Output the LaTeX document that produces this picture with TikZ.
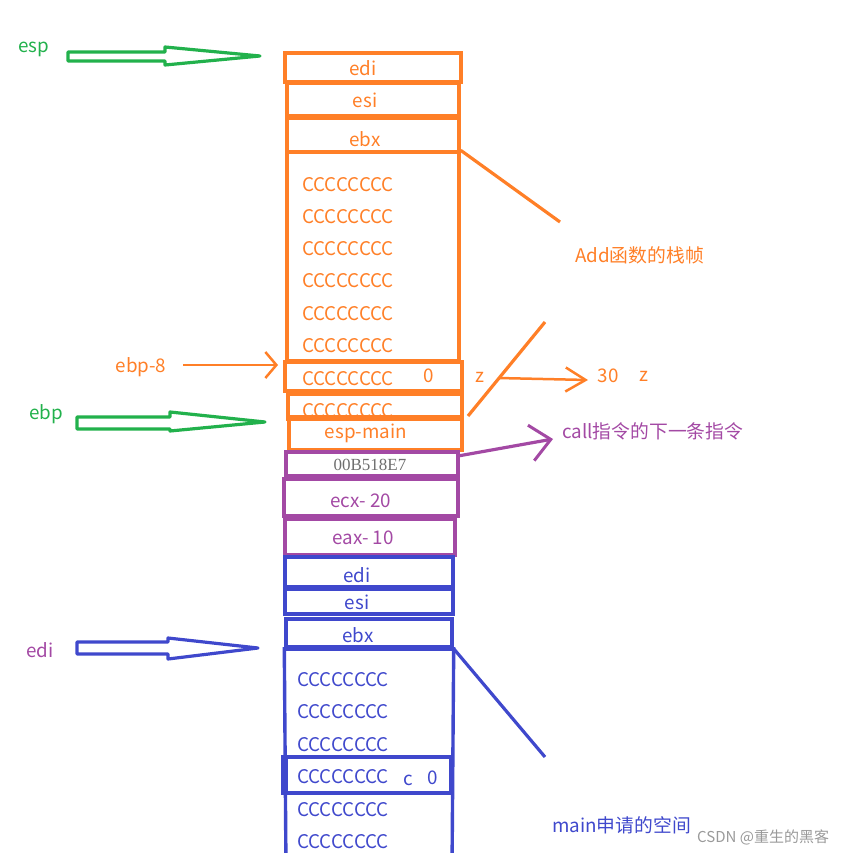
\documentclass[tikz,border=0pt]{standalone}
\usepackage{fontspec}
\setmainfont{Noto Sans CJK SC}
\newfontfamily\serifaddr{Liberation Serif}
\usetikzlibrary{arrows.meta}
\definecolor{myor}{RGB}{255,127,39}
\definecolor{mygr}{RGB}{34,177,76}
\definecolor{mypu}{RGB}{163,73,164}
\definecolor{mybl}{RGB}{63,72,204}
\definecolor{mygy}{RGB}{110,110,110}
\newcommand{\fsz}{\fontsize{18.8}{20}\selectfont}
\tikzset{
  box/.style={draw, line width=3.4pt, rectangle, inner sep=0pt},
  obox/.style={box, draw=myor},
  pbox/.style={box, draw=mypu},
  bbox/.style={box, draw=mybl},
  txt/.style={inner sep=0pt, font=\fsz},
  otxt/.style={txt, text=myor},
  ptxt/.style={txt, text=mypu},
  btxt/.style={txt, text=mybl},
  ccc/.style={txt, anchor=west},
  hollow/.style={line width=3.2pt, line join=round, fill=white},
  chev/.style={line width=2.5pt, -{Straight Barb[length=11pt,width=26pt,line width=2.5pt]}},
}
\newcommand{\hollowarrow}[8]{% color, x0, ytop, ybot, xbase, headtop, headbot, tip(x,y)
  \draw[hollow, draw=#1] (#2,#3) -- (#5,#3) -- (#5,#6) -- #8 -- (#5,#7) -- (#5,#4) -- (#2,#4) -- cycle;}
\begin{document}
\begin{tikzpicture}[x=1pt, y=-1pt]
\useasboundingbox (0,0) rectangle (840,853);

% ---------- orange frame ----------
\node[obox, minimum width=176pt, minimum height=29pt] (oedi) at (373,67.5) {};
\node[obox, minimum width=172pt, minimum height=33pt] (oesi) at (373,99.5) {};
\node[obox, minimum width=172pt, minimum height=34pt] (oebx) at (373,135) {};
\node[obox, minimum width=172pt, minimum height=209pt] (obig) at (373,256.5) {};
\node[obox, minimum width=177pt, minimum height=29pt] (oebp) at (373.5,376.5) {};
\node[obox, minimum width=174pt, minimum height=23pt] (onext) at (375,405.5) {};
\begin{scope}
  \clip (289,395) rectangle (461,415);
  \node[otxt, ccc] (tnext) at (302,411) {CCCCCCCC};
\end{scope}
\draw[myor, line width=5pt] (onext.south west) -- (onext.south east);
\node[obox, minimum width=173pt, minimum height=32pt] (omain) at (375.5,434) {};

\node[otxt] (tedi1) at (363,68) {edi};
\node[otxt] (tesi1) at (365,100) {esi};
\node[otxt] (tebx1) at (365,139) {ebx};
\foreach \yy [count=\i] in {185,217,249,281,314,346}
  \node[otxt, ccc] (oc\i) at (302,\yy) {CCCCCCCC};
\node[otxt, ccc] (oc7) at (302,379) {CCCCCCCC};
\node[otxt] (tzero) at (429,376) {0};
\node[otxt] (tespmain) at (366,433) {esp-main};

% ---------- purple ----------
\node[pbox, minimum width=172pt, minimum height=24pt] (pret) at (372,464) {};
\node[pbox, minimum width=174pt, minimum height=37pt] (pecx) at (371,497.5) {};
\node[pbox, minimum width=170pt, minimum height=36pt] (peax) at (370,537) {};
\node[txt, text=mygy, font=\serifaddr\fontsize{17}{19}\selectfont] (taddr) at (370,465) {00B518E7};
\node[ptxt] (tecx) at (361,501) {ecx- 20};
\node[ptxt] (teax) at (363,538) {eax- 10};

% ---------- blue ----------
\node[bbox, minimum width=168pt, minimum height=30pt] (bedi) at (369,572) {};
\node[bbox, minimum width=168pt, minimum height=25pt] (besi) at (369,601.5) {};
\node[bbox, minimum width=166pt, minimum height=28pt] (bebx) at (369,633) {};
\coordinate (bbl) at (286,870);
\coordinate (bbr) at (452,870);
\draw[mybl, line width=3.4pt] (bbl) -- (bebx.south west) -- (bebx.south east) -- (bbr);
\draw[mybl, line width=4.5pt] (bebx.south west) -- (bebx.south east);
\node[bbox, minimum width=168pt, minimum height=36pt] (bc) at (367,775) {};
\fill[mybl] (282,757) rectangle (288,793);

\node[btxt] (tedi2) at (357,575) {edi};
\node[btxt] (tesi2) at (357,602) {esi};
\node[btxt] (tebx2) at (358,635) {ebx};
\foreach \yy [count=\i] in {680,712,745,777,810,842}
  \node[btxt, ccc] (bcc\i) at (297,\yy) {CCCCCCCC};
\node[btxt] (tc) at (408,780) {c};
\node[btxt] (tz2) at (433,778) {0};

% ---------- side lines ----------
\coordinate (oline1) at (560,222);
\draw[myor, line width=3.2pt] (obig.north east) -- (oline1);
\coordinate (oline2a) at (545,322);
\coordinate (oline2b) at (468,416);
\draw[myor, line width=3.2pt] (oline2a) -- (oline2b);
\coordinate (bline) at (545,757);
\draw[mybl, line width=3.2pt] (bebx.south east) -- (bline);

% ---------- labels ----------
\node[otxt, anchor=west] (tadd) at (575,255) {Add函数的栈帧};
\node[btxt, anchor=west] (tmainsp) at (552,825) {main申请的空间};
\node[ptxt, anchor=west] (tcall) at (562,431) {call指令的下一条指令};
\node[txt, text=mygr] (lesp) at (34,49) {esp};
\node[txt, text=mygr] (lebp) at (46,414) {ebp};
\node[ptxt] (ledi) at (40,650) {edi};
\node[otxt] (lebp8) at (141,367) {ebp-8};
\node[otxt] (lz) at (480,377) {z};
\node[otxt] (l30) at (608,376) {30};
\node[otxt] (lz2) at (644,376) {z};
\node[txt, text=mygy!70, font=\fontsize{15}{17}\selectfont, anchor=west] (wm) at (697,837) {CSDN @重生的黑客};

% ---------- arrows ----------
\coordinate (a1s) at (183,365);
\coordinate (a1e) at (278,365);
\draw[myor, chev] (a1s) -- (a1e);
\coordinate (a2s) at (498,378);
\coordinate (a2e) at (588,380);
\draw[myor, chev, -{Straight Barb[length=20pt,width=24pt,line width=2.5pt]}] (a2s) -- (a2e);
\coordinate (a3s) at (458,456);
\coordinate (a3e) at (553,439);
\draw[mypu, line width=3.2pt, -{Straight Barb[length=20pt,width=36pt,line width=3pt]}] (a3s) -- (a3e);

% hollow arrows
\hollowarrow{mygr}{68}{52}{61}{165}{47}{65}{(260,56)}
\hollowarrow{mygr}{77}{417}{429}{170}{412}{431}{(265,422)}
\hollowarrow{mybl}{77}{642}{654}{168}{638}{659}{(258,648)}
\end{tikzpicture}
\end{document}
